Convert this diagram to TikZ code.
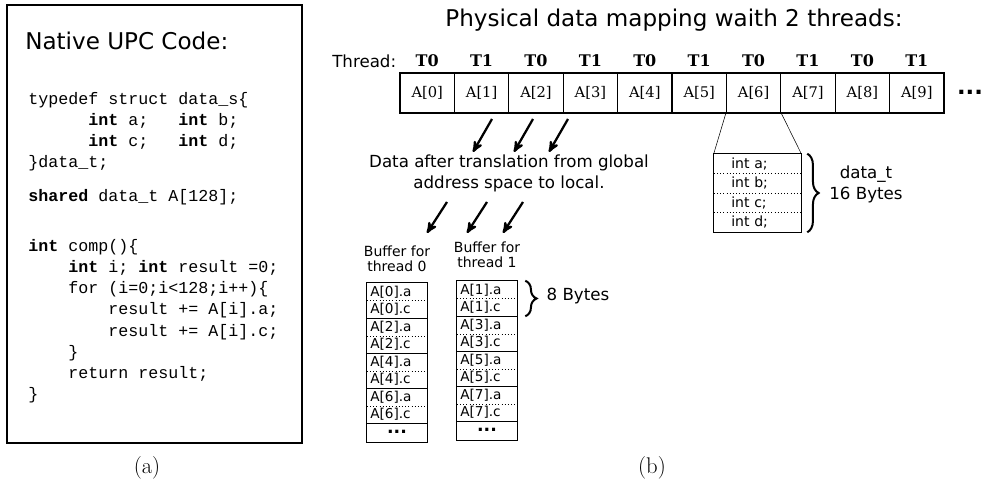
\documentclass[tikz,border=0pt]{standalone}
\usepackage{fontspec}
\setmonofont{Liberation Mono}
\newfontfamily\dvsans{DejaVu Sans}
\newfontfamily\dvserif{DejaVu Serif}
\usetikzlibrary{shapes,positioning,fit,arrows,decorations.pathreplacing}

\begin{document}
\begin{tikzpicture}[x=0.75pt,y=-0.75pt,
    code/.style={anchor=base west,inner sep=0pt,font=\ttfamily\fontsize{12.5}{15}\selectfont},
    bigtext/.style={inner sep=0pt,font=\dvsans\fontsize{17.3}{20}\selectfont},
    midtext/.style={inner sep=0pt,align=center,font=\dvsans\fontsize{12.5}{15.75}\selectfont},
    smalltext/.style={inner sep=0pt,align=center,font=\dvsans\fontsize{10.5}{11.25}\selectfont},
    cell/.style={draw,line width=1pt,minimum width=40.8pt,minimum height=30pt,inner sep=0pt,font=\dvserif\fontsize{11}{13}\selectfont},
    tlab/.style={anchor=base,inner sep=0pt,font=\dvserif\bfseries\fontsize{12}{13}\selectfont},
    brow/.style={inner xsep=2.5pt,inner ysep=0pt,text width=40pt,align=left,minimum height=13.125pt,font=\dvsans\fontsize{10.2}{11}\selectfont},
    drow/.style={inner xsep=13pt,inner ysep=0pt,text width=39.25pt,align=left,minimum height=14.625pt,font=\dvsans\fontsize{10.5}{12}\selectfont},
    dots/.style={brow,align=center,minimum height=15pt,font=\dvsans\bfseries\fontsize{13}{14}\selectfont},
    fatarrow/.style={-stealth',line width=1.7pt},
    curly/.style={decorate,decoration={brace,amplitude=8.5pt},line width=1.5pt},
    sub/.style={inner sep=0pt,font=\fontsize{17}{20}\selectfont}]
  \useasboundingbox (0,0) rectangle (984,491);

  % (a) the UPC source
  \draw[line width=1pt] (7,5) rectangle (302,443);
  \node[bigtext,anchor=base west] (ntitle) at (25,50) {Native UPC Code:};
  \foreach \n/\x/\y/\t in {1/0/105/{typedef struct data\_s\{},
      2/6/126/{\textbf{int} a;\hspace*{1.8em}\textbf{int} b;},
      3/6/147/{\textbf{int} c;\hspace*{1.8em}\textbf{int} d;},
      4/0/168/{\}data\_t;},
      5/0/202/{\textbf{shared} data\_t A[128];},
      6/0/252/{\textbf{int} comp()\{},
      7/4/273/{\textbf{int} i; \textbf{int} result =0;},
      8/4/294/{for (i=0;i<128;i++)\{},
      9/8/315/{result += A[i].a;},
      10/8/336/{result += A[i].c;},
      11/4/357/{\}},
      12/4/378/{return result;},
      13/0/399/{\}}}
    \node[code] (line\n) at (28+10*\x,\y) {\t};
  \node[sub] (capa) at (147,468) {(a)};

  % (b) the shared array and its layout
  \node[bigtext,anchor=base] (ptitle) at (674,27) {Physical data mapping waith 2 threads:};
  \node[midtext,anchor=base west] (thr) at (332,68) {Thread:};
  \foreach \i in {0,...,9} {
    \pgfmathtruncatemacro\tid{mod(\i,2)}
    \node[cell] (c\i) at (427.2+54.4*\i,93) {A[\i]};
    \node[tlab] (t\i) at (427.2+54.4*\i,67) {T\tid};
  }
  \node[inner sep=0pt,font=\dvsans\bfseries\fontsize{17}{20}\selectfont] (more) at (970,92) {...};

  % one element of A
  \foreach \v [count=\j] in {a,b,c,d}
    \node[drow] (d\j) at (757.5,144.25+19.5*\j) {int \v;};
  \foreach \j in {1,2,3}
    \draw[dotted] (d\j.south west) -- (d\j.south east);
  \draw[line width=1pt] (d1.north west) rectangle (d4.south east);
  \draw (c6.south west) -- (d1.north west);
  \draw (c6.south east) -- (d1.north east);
  \draw[curly] ([xshift=4.5pt]d1.north east) -- ([xshift=4.5pt]d4.south east);
  \node[midtext] (dsize) at (866,184) {data\_t\\16 Bytes};

  % translation arrows
  \foreach \k/\x in {1/492,2/533,3/568} {
    \coordinate (s\k) at (\x,119);
    \coordinate (e\k) at (\x-19,152);
    \draw[fatarrow] (s\k) -- (e\k);
  }
  \node[midtext] (trans) at (509,173) {Data after translation from global\\address space to local.};
  \foreach \k/\x in {4/447,5/487,6/523} {
    \coordinate (s\k) at (\x,202);
    \coordinate (e\k) at (\x-20,233);
    \draw[fatarrow] (s\k) -- (e\k);
  }

  % local buffers
  \node[smalltext] (bl0) at (397,259) {Buffer for\\thread 0};
  \node[smalltext] (bl1) at (487,255) {Buffer for\\thread 1};
  \foreach \k in {0,...,3} {
    \pgfmathtruncatemacro\ev{2*\k}
    \pgfmathtruncatemacro\od{2*\k+1}
    \node[brow] (pa\k) at (397,291.75+35*\k) {A[\ev].a};
    \node[brow] (pc\k) at (397,309.25+35*\k) {A[\ev].c};
    \node[brow] (qa\k) at (487,289.75+35*\k) {A[\od].a};
    \node[brow] (qc\k) at (487,307.25+35*\k) {A[\od].c};
    \draw[dotted] (pa\k.south west) -- (pa\k.south east);
    \draw[dotted] (qa\k.south west) -- (qa\k.south east);
    \draw[line width=1pt] (pc\k.south west) -- (pc\k.south east);
    \draw[line width=1pt] (qc\k.south west) -- (qc\k.south east);
  }
  \node[dots] (pd) at (397,432) {...};
  \node[dots] (qd) at (487,430) {...};
  \draw[line width=1pt] (pa0.north west) rectangle (pd.south east);
  \draw[line width=1pt] (qa0.north west) rectangle (qd.south east);
  \draw[curly] ([xshift=6pt]qa0.north east) -- ([xshift=6pt]qc0.south east);
  \node[midtext] (bsize) at (578,296) {8 Bytes};
  \node[sub] (capb) at (652,468) {(b)};
\end{tikzpicture}
\end{document}
